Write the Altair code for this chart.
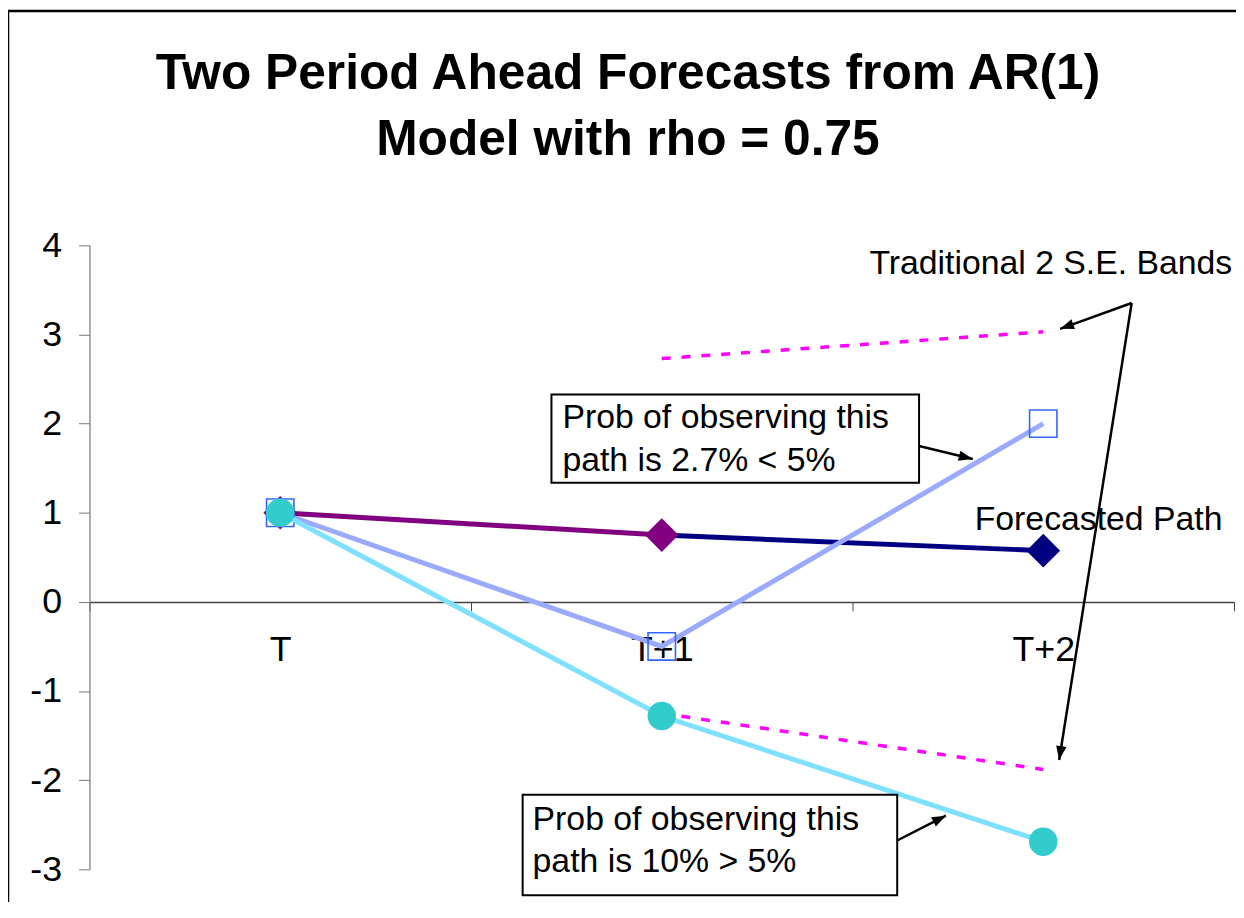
import math
import altair as alt
import pandas as pd

# ---------------- data ----------------
periods = ["T", "T+1", "T+2"]
forecast = [1.0, 0.75, 0.575]
forecast_segment = ["a", "a", "b"]          # colour class of each forecast point
path_square = [1.0, -0.5, 2.0]
path_circle = [1.0, -1.28, -2.69]
band_periods = ["T+1", "T+2"]
upper_band = [2.73, 3.03]
lower_band = [-1.25, -1.88]
y_ticks = [-3, -2, -1, 0, 1, 2, 3, 4]

title_lines = ["Two Period Ahead Forecasts from AR(1)", "Model with rho = 0.75"]
box1_lines = ["Prob of observing this", "path is 2.7% < 5%"]
box2_lines = ["Prob of observing this", "path is 10% > 5%"]
bands_label = "Traditional 2 S.E. Bands"
forecast_label = "Forecasted Path"

# ---------------- tables ----------------
fc_rows = []
for i, (p, v) in enumerate(zip(periods, forecast)):
    if i < 2:
        fc_rows.append({"period": p, "value": v, "seg": "a"})
    if i > 0:
        fc_rows.append({"period": p, "value": v, "seg": "b"})
fc_lines = pd.DataFrame(fc_rows)
fc_points = pd.DataFrame({"period": periods, "value": forecast, "seg": forecast_segment})
sq_df = pd.DataFrame({"period": periods, "value": path_square})
ci_df = pd.DataFrame({"period": periods, "value": path_circle})
band_df = pd.DataFrame(
    {"period": band_periods * 2,
     "value": upper_band + lower_band,
     "band": ["upper"] * len(band_periods) + ["lower"] * len(band_periods)}
)
one = pd.DataFrame({"k": [0]})

W, H = 1152, 628
FONT = "Liberation Sans"
zero_px = H * 4 / 7.0

x_enc = alt.X(
    "period:N", sort=periods, bandPosition=0.5,
    scale=alt.Scale(type="band", domain=periods, paddingInner=0, paddingOuter=0),
    axis=alt.Axis(title=None, orient="bottom", offset=-(H - zero_px), tickBand="extent",
                  tickSize=9, tickColor="#444", domainColor="#444", domainWidth=1.5,
                  labelFontSize=36, labelColor="black", labelPadding=22, labelAngle=0,
                  labelFont=FONT, grid=False),
)
y_enc = alt.Y(
    "value:Q",
    scale=alt.Scale(domain=[-3, 4], nice=False, zero=False),
    axis=alt.Axis(title=None, values=y_ticks, tickSize=11, tickColor="#777",
                  domainColor="#777", domainWidth=1.2, labelFontSize=36, labelColor="black",
                  labelPadding=17, labelFont=FONT, grid=False,
                  labelExpr="'' + datum.value"),
)

bands = alt.Chart(band_df).mark_line(
    color="#FF00FF", strokeWidth=3.5, strokeDash=[9, 11]
).encode(x=x_enc, y=y_enc, detail="band:N")

seg_scale = alt.Scale(domain=["a", "b"], range=["#800080", "#000080"])
fc_line = alt.Chart(fc_lines).mark_line(strokeWidth=5).encode(
    x=x_enc, y=y_enc, detail="seg:N",
    color=alt.Color("seg:N", scale=seg_scale, legend=None))
fc_pts = alt.Chart(fc_points).mark_point(
    shape="diamond", filled=True, size=1150, opacity=1).encode(
    x=x_enc, y=y_enc, color=alt.Color("seg:N", scale=seg_scale, legend=None))

sq_line = alt.Chart(sq_df).mark_line(color="#99AAFF", strokeWidth=5).encode(x=x_enc, y=y_enc)
sq_pts = alt.Chart(sq_df).mark_point(
    shape="square", filled=False, size=760, color="#3366FF", strokeWidth=1.6, opacity=1
).encode(x=x_enc, y=y_enc)

ci_line = alt.Chart(ci_df).mark_line(color="#80E0FF", strokeWidth=5).encode(x=x_enc, y=y_enc)
ci_pts = alt.Chart(ci_df).mark_point(
    shape="circle", filled=True, size=820, color="#33CCCC", opacity=1
).encode(x=x_enc, y=y_enc)

# ---------------- annotations (pixel offsets inside the plot area) ----------------
def text_layer(lines, x, y, size=34, bold=False, align="left", lh=43):
    return alt.Chart(one).mark_text(
        text=lines, font=FONT, fontSize=size, fontWeight="bold" if bold else "normal",
        align=align, baseline="alphabetic", color="black", lineHeight=lh
    ).encode(x=alt.value(x), y=alt.value(y))


def box_layer(x1, y1, x2, y2):
    return alt.Chart(one).mark_rect(fill="white", stroke="black", strokeWidth=2).encode(
        x=alt.value(x1), x2=alt.value(x2), y=alt.value(y1), y2=alt.value(y2))


HEAD = "M0,0 L-0.75,2 L0.75,2 Z"


def arrow_layers(x1, y1, x2, y2):
    ang = math.degrees(math.atan2(x2 - x1, -(y2 - y1))) % 360
    shaft = alt.Chart(one).mark_rule(color="black", strokeWidth=2.5).encode(
        x=alt.value(x1), y=alt.value(y1), x2=alt.value(x2), y2=alt.value(y2))
    head = alt.Chart(one).mark_point(
        shape=HEAD, filled=True, color="black", size=196, opacity=1
    ).encode(x=alt.value(x2), y=alt.value(y2), angle=alt.value(ang))
    return [shaft, head]


frame = [
    alt.Chart(one).mark_rule(color="black", strokeWidth=2.5).encode(
        x=alt.value(-82), y=alt.value(-236), y2=alt.value(H + 40)),
    alt.Chart(one).mark_rule(color="black", strokeWidth=2.5).encode(
        x=alt.value(-82), x2=alt.value(W + 20), y=alt.value(-236)),
]

annots = []
annots.append(text_layer(title_lines, 542, -157, size=50, bold=True, align="center", lh=66))
annots.append(text_layer([bands_label], 785, 29))
annots += arrow_layers(1049, 58, 977, 84)
annots += arrow_layers(1049, 58, 976, 518)
annots.append(text_layer([forecast_label], 891, 286))
annots.append(box_layer(465, 150, 835, 239))
annots.append(text_layer(box1_lines, 476, 184))
annots += arrow_layers(835, 202, 889, 215)
annots.append(box_layer(436, 553, 813, 654))
annots.append(text_layer(box2_lines, 446, 588))
annots += arrow_layers(813, 599, 862, 574)

chart = alt.layer(
    bands, fc_line, fc_pts, sq_line, sq_pts, ci_line, ci_pts, *annots, *frame
).properties(
    width=W, height=H,
    padding={"left": 82, "top": 236, "right": 2, "bottom": 30},
    autosize=alt.AutoSizeParams(type="none"),
    background="white",
).configure_view(stroke=None)

chart.save("out.html", embed_options={"renderer": "svg", "actions": False})
